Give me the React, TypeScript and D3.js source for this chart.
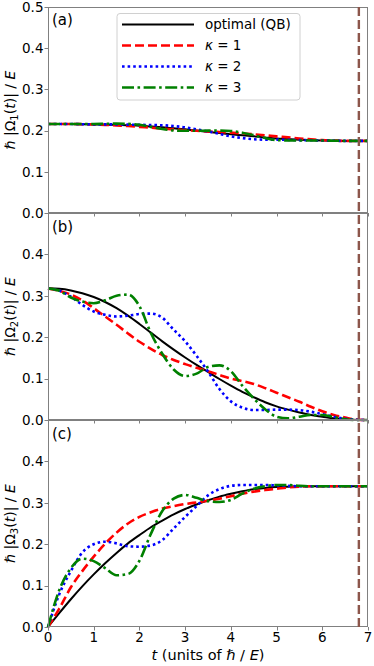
import React, { useEffect, useRef } from "react";
import * as d3 from "d3";

// time grid (units of hbar/E)
const tGrid = [
  0, 0.25, 0.5, 0.75, 1, 1.25, 1.5, 1.75, 2, 2.25, 2.5, 2.75, 3, 3.25, 3.5,
  3.75, 4, 4.25, 4.5, 4.75, 5, 5.25, 5.5, 5.75, 6, 6.25, 6.5, 6.75, 7,
];

// panel (a): |Omega_1|
const omega1Optimal = [
  0.216, 0.216, 0.216, 0.2155, 0.215, 0.2145, 0.214, 0.213, 0.212, 0.21, 0.208,
  0.2055, 0.203, 0.2, 0.197, 0.194, 0.191, 0.1885, 0.186, 0.1835, 0.181, 0.1795,
  0.178, 0.177, 0.176, 0.1755, 0.175, 0.175, 0.175,
];
const omega1K1 = [
  0.216, 0.216, 0.216, 0.2155, 0.215, 0.214, 0.2125, 0.211, 0.209, 0.207, 0.205,
  0.203, 0.201, 0.1995, 0.198, 0.1965, 0.195, 0.193, 0.191, 0.1885, 0.186,
  0.1835, 0.181, 0.179, 0.177, 0.176, 0.175, 0.175, 0.175,
];
const omega1K2 = [
  0.216, 0.216, 0.216, 0.2155, 0.215, 0.215, 0.215, 0.2145, 0.214, 0.2135, 0.213,
  0.211, 0.208, 0.203, 0.198, 0.192, 0.186, 0.182, 0.179, 0.178, 0.178, 0.1775,
  0.177, 0.1765, 0.176, 0.1755, 0.175, 0.175, 0.175,
];
const omega1K3 = [
  0.216, 0.216, 0.216, 0.216, 0.216, 0.2165, 0.217, 0.2165, 0.214, 0.209, 0.204,
  0.2005, 0.1995, 0.1995, 0.2, 0.2, 0.199, 0.195, 0.189, 0.182, 0.177, 0.176,
  0.176, 0.176, 0.176, 0.1755, 0.175, 0.175, 0.175,
];

// panel (b): |Omega_2|
const omega2Optimal = [
  0.318, 0.317, 0.313, 0.306, 0.297, 0.285, 0.27, 0.252, 0.232, 0.211, 0.19,
  0.17, 0.151, 0.133, 0.116, 0.099, 0.083, 0.068, 0.055, 0.043, 0.033, 0.025,
  0.018, 0.012, 0.008, 0.004, 0.002, 0.0, 0.0,
];
const omega2K1 = [
  0.318, 0.312, 0.303, 0.289, 0.27, 0.25, 0.23, 0.209, 0.189, 0.172, 0.157,
  0.145, 0.135, 0.126, 0.118, 0.109, 0.1, 0.094, 0.087, 0.077, 0.066, 0.055,
  0.044, 0.032, 0.021, 0.012, 0.006, 0.001, 0.0,
];
const omega2K2 = [
  0.318, 0.312, 0.298, 0.278, 0.262, 0.254, 0.25, 0.252, 0.256, 0.257, 0.247,
  0.218, 0.19, 0.155, 0.117, 0.075, 0.045, 0.03, 0.024, 0.024, 0.025, 0.025,
  0.024, 0.02, 0.014, 0.008, 0.003, 0.0005, 0.0,
];
const omega2K3 = [
  0.318, 0.312, 0.296, 0.286, 0.282, 0.289, 0.3, 0.303, 0.275, 0.21, 0.16,
  0.122, 0.106, 0.112, 0.128, 0.132, 0.118, 0.083, 0.052, 0.026, 0.008, 0.004,
  0.008, 0.012, 0.012, 0.007, 0.002, 0.0, 0.0,
];

// panel (c): |Omega_3|
const omega3Optimal = [
  0, 0.034, 0.067, 0.098, 0.127, 0.154, 0.179, 0.202, 0.222, 0.241, 0.257,
  0.272, 0.285, 0.296, 0.306, 0.315, 0.322, 0.328, 0.333, 0.336, 0.338, 0.339,
  0.34, 0.34, 0.34, 0.34, 0.34, 0.34, 0.34,
];
const omega3K1 = [
  0, 0.045, 0.096, 0.135, 0.17, 0.201, 0.228, 0.25, 0.266, 0.277, 0.286, 0.292,
  0.297, 0.301, 0.305, 0.31, 0.316, 0.322, 0.327, 0.331, 0.334, 0.337, 0.339,
  0.34, 0.34, 0.34, 0.34, 0.34, 0.34,
];
const omega3K2 = [
  0, 0.08, 0.135, 0.18, 0.2, 0.206, 0.202, 0.195, 0.194, 0.197, 0.21, 0.238,
  0.266, 0.292, 0.318, 0.333, 0.341, 0.343, 0.343, 0.343, 0.342, 0.341, 0.34,
  0.34, 0.34, 0.34, 0.34, 0.34, 0.34,
];
const omega3K3 = [
  0, 0.09, 0.142, 0.165, 0.159, 0.142, 0.125, 0.128, 0.16, 0.225, 0.28, 0.31,
  0.319, 0.312, 0.304, 0.302, 0.307, 0.322, 0.334, 0.34, 0.343, 0.343, 0.341,
  0.34, 0.34, 0.34, 0.34, 0.34, 0.34,
];

const xTicks = [0, 1, 2, 3, 4, 5, 6, 7];
const yTicksFirst = [0, 0.1, 0.2, 0.3, 0.4, 0.5];
const yTicksRest = [0, 0.1, 0.2, 0.3, 0.4];
const tFinal = 6.8;
const panelLabels = ["(a)", "(b)", "(c)"];
const seriesNames = ["optimal (QB)", "1", "2", "3"];

const FONT = "'DejaVu Sans', sans-serif";

const App = () => {
  const svgRef = useRef(null);

  useEffect(() => {
    const svg = d3.select(svgRef.current);
    svg.selectAll("*").remove();

    const width = 374;
    const height = 666;
    const left = 48;
    const right = 368;
    const panelTops = [7, 213, 420];
    const panelBottoms = [213, 420, 627];
    const spine = "#808080";

    svg.attr("width", width).attr("height", height);

    const x = d3.scaleLinear().domain([0, 7]).range([left, right]);

    // styles for the four curves
    const styles = [
      { color: "#000000", width: 2, dash: null },
      { color: "#ff0000", width: 2.6, dash: "9,4" },
      { color: "#0000ff", width: 2.6, dash: "2.6,3" },
      { color: "#008000", width: 2.6, dash: "12,3.5,2.6,3.5" },
    ];

    const panels = [
      [omega1Optimal, omega1K1, omega1K2, omega1K3],
      [omega2Optimal, omega2K1, omega2K2, omega2K3],
      [omega3Optimal, omega3K1, omega3K2, omega3K3],
    ];

    panels.forEach((series, p) => {
      const top = panelTops[p];
      const bottom = panelBottoms[p];
      const y = d3
        .scaleLinear()
        .domain([0, 0.5])
        .range([bottom, p === 0 ? top : bottom - 207]);
      const g = svg.append("g");

      const line = d3
        .line()
        .x((d) => x(d[0]))
        .y((d) => y(d[1]))
        .curve(d3.curveMonotoneX);

      series.forEach((vals, i) => {
        const st = styles[i];
        g.append("path")
          .datum(tGrid.map((t, k) => [t, vals[k]]))
          .attr("d", line)
          .attr("fill", "none")
          .attr("stroke", st.color)
          .attr("stroke-width", st.width)
          .attr("stroke-dasharray", st.dash);
      });

      // frame
      g.append("rect")
        .attr("x", left + 0.5)
        .attr("y", top + 0.5)
        .attr("width", right - left - 1)
        .attr("height", bottom - top - 1)
        .attr("fill", "none")
        .attr("stroke", spine)
        .attr("stroke-width", 1);

      // y ticks
      const yt = p === 0 ? yTicksFirst : yTicksRest;
      yt.forEach((v) => {
        const yy = Math.round(y(v)) + 0.5;
        g.append("line")
          .attr("x1", left - 3.5)
          .attr("x2", left)
          .attr("y1", yy)
          .attr("y2", yy)
          .attr("stroke", spine);
        g.append("text")
          .attr("x", left - 4.5)
          .attr("y", Math.max(y(v), 7.5))
          .attr("dy", "0.36em")
          .attr("text-anchor", "end")
          .attr("font-family", FONT)
          .attr("font-size", 13.5)
          .attr("fill", "#000")
          .text(v.toFixed(1));
      });

      // x ticks
      xTicks.forEach((t) => {
        const xx = Math.round(x(t)) + 0.5;
        g.append("line")
          .attr("x1", xx)
          .attr("x2", xx)
          .attr("y1", bottom)
          .attr("y2", bottom + 3.5)
          .attr("stroke", spine);
        if (p === 2) {
          g.append("text")
            .attr("x", x(t))
            .attr("y", 641.5)
            .attr("text-anchor", "middle")
            .attr("font-family", FONT)
            .attr("font-size", 13.5)
            .attr("fill", "#000")
            .text(t);
        }
      });

      // panel label
      g.append("text")
        .attr("x", 52)
        .attr("y", (p === 0 ? 6 : top) + 18.5)
        .attr("font-family", FONT)
        .attr("font-size", 15)
        .attr("fill", "#000")
        .text(panelLabels[p]);

      // y label
      const cy = (top + bottom) / 2;
      const lab = g
        .append("text")
        .attr("transform", `translate(15,${cy}) rotate(-90)`)
        .attr("text-anchor", "middle")
        .attr("font-family", FONT)
        .attr("font-size", 14)
        .attr("fill", "#000");
      lab.append("tspan").attr("font-style", "italic").text("ℏ");
      lab.append("tspan").text(" |Ω");
      lab.append("tspan").attr("font-size", 10).attr("dy", 3).text(p + 1);
      lab.append("tspan").attr("dy", -3).text("(");
      lab.append("tspan").attr("font-style", "italic").text("t");
      lab.append("tspan").text(")| / ");
      lab.append("tspan").attr("font-style", "italic").text("E");
    });

    // final time marker
    svg
      .append("line")
      .attr("x1", x(tFinal))
      .attr("x2", x(tFinal))
      .attr("y1", panelTops[0])
      .attr("y2", panelBottoms[2])
      .attr("stroke", "#8c564b")
      .attr("stroke-width", 2.4)
      .attr("stroke-dasharray", "9,4");

    // legend
    const lg = svg.append("g");
    lg.append("rect")
      .attr("x", 117)
      .attr("y", 13.5)
      .attr("width", 183)
      .attr("height", 86.5)
      .attr("rx", 3)
      .attr("fill", "#fff")
      .attr("fill-opacity", 0.8)
      .attr("stroke", "#d0d0d0")
      .attr("stroke-width", 1);
    const rowsY = [24.5, 45.5, 66.5, 87.5];
    seriesNames.forEach((name, i) => {
      const st = styles[i];
      lg.append("line")
        .attr("x1", 122)
        .attr("x2", 194)
        .attr("y1", rowsY[i])
        .attr("y2", rowsY[i])
        .attr("stroke", st.color)
        .attr("stroke-width", st.width)
        .attr("stroke-dasharray", st.dash);
      const tx = lg
        .append("text")
        .attr("x", 205)
        .attr("y", rowsY[i])
        .attr("dy", "0.36em")
        .attr("font-family", FONT)
        .attr("font-size", 13.5)
        .attr("fill", "#000");
      if (i === 0) {
        tx.text(name);
      } else {
        tx.append("tspan").attr("font-style", "italic").text("κ");
        tx.append("tspan").text(" = " + name);
      }
    });

    // x label
    const xl = svg
      .append("text")
      .attr("x", (left + right) / 2)
      .attr("y", 660)
      .attr("text-anchor", "middle")
      .attr("font-family", FONT)
      .attr("font-size", 14.5)
      .attr("fill", "#000");
    xl.append("tspan").attr("font-style", "italic").text("t");
    xl.append("tspan").text(" (units of ");
    xl.append("tspan").attr("font-style", "italic").text("ℏ");
    xl.append("tspan").text(" / ");
    xl.append("tspan").attr("font-style", "italic").text("E");
    xl.append("tspan").text(")");
  }, []);

  return (
    <svg
      ref={svgRef}
      style={{ position: "absolute", left: 0, top: 0, background: "#fff" }}
    />
  );
};

export default App;
